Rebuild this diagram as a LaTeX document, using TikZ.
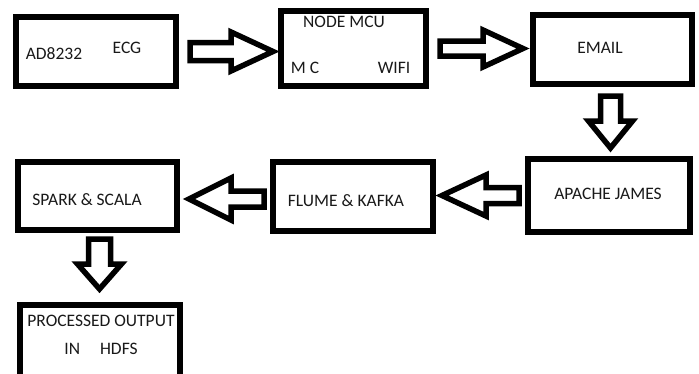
\documentclass[tikz,border=0pt]{standalone}
\usepackage{fontspec}
\setmainfont{Carlito}
\usetikzlibrary{calc}

% hollow block arrow: start, angle, shaft length, shaft half width, head half width, head length
\newcommand{\fatarrow}[6]{%
  \begin{scope}[shift={(#1)}, rotate=#2]
    \draw[fat] (0,-#4) -- (#3,-#4) -- (#3,-#5) -- (#3+#6,0) -- (#3,#5)
      -- (#3,#4) -- (0,#4) -- cycle;
  \end{scope}}

\begin{document}
\begin{tikzpicture}[x=1pt, y=-1pt, font=\fontsize{17.5}{20}\selectfont,
  blk/.style={draw, line width=6pt, fill=white, inner sep=0pt},
  lbl/.style={inner sep=0pt, text=black!90},
  fat/.style={draw, line width=5.5pt, fill=white}]

\useasboundingbox (0,0) rectangle (699,373);
\clip (0,0) rectangle (699,373);

\node[blk, minimum width=160pt, minimum height=69pt] (ad)     at (96,51.5)   {};
\node[blk, minimum width=145pt, minimum height=75pt] (mcu)    at (353.5,48.5) {};
\node[blk, minimum width=159pt, minimum height=69pt] (email)  at (612.5,49.5) {};
\node[blk, minimum width=162pt, minimum height=73pt] (apache) at (609,195.5) {};
\node[blk, minimum width=160pt, minimum height=69pt] (flume)  at (353,196.5) {};
\node[blk, minimum width=159pt, minimum height=68pt] (spark)  at (97.5,196)  {};
\node[blk, minimum width=160pt, minimum height=90pt] (hdfs)   at (100,350)   {};

\node[lbl] (adtxt)    at (54,54)    {AD8232};
\node[lbl] (ecgtxt)   at (127,48)   {ECG};
\node[lbl] (nodetxt)  at (344,22)   {NODE MCU};
\node[lbl] (mctxt)    at (305,68)   {M C};
\node[lbl] (wifitxt)  at (394,68)   {WIFI};
\node[lbl] (emailtxt) at (600,48)   {EMAIL};
\node[lbl] (jamestxt) at (608,194)  {APACHE JAMES};
\node[lbl] (flumetxt) at (346,201)  {FLUME \& KAFKA};
\node[lbl] (sparktxt) at (87,200)   {SPARK \& SCALA};
\node[lbl] (proctxt)  at (101,321)  {PROCESSED OUTPUT};
\node[lbl] (intxt)    at (101,349)  {IN\hspace{20pt}HDFS};

\fatarrow{$(ad.east)+(11,0)$}{0}{41}{9}{19.5}{42}
\fatarrow{$(mcu.east)+(11,0)$}{0}{43}{7.5}{18.5}{40}
\fatarrow{$(email.south)+(-2,9)$}{-90}{25}{10}{22}{27}
\fatarrow{$(apache.west)+(-6,0)$}{180}{33}{8}{20.5}{44}
\fatarrow{$(flume.west)+(-6,2.5)$}{180}{33}{8}{21}{42}
\fatarrow{$(spark.south)+(2,6)$}{-90}{25}{11}{22}{25}

\end{tikzpicture}
\end{document}
